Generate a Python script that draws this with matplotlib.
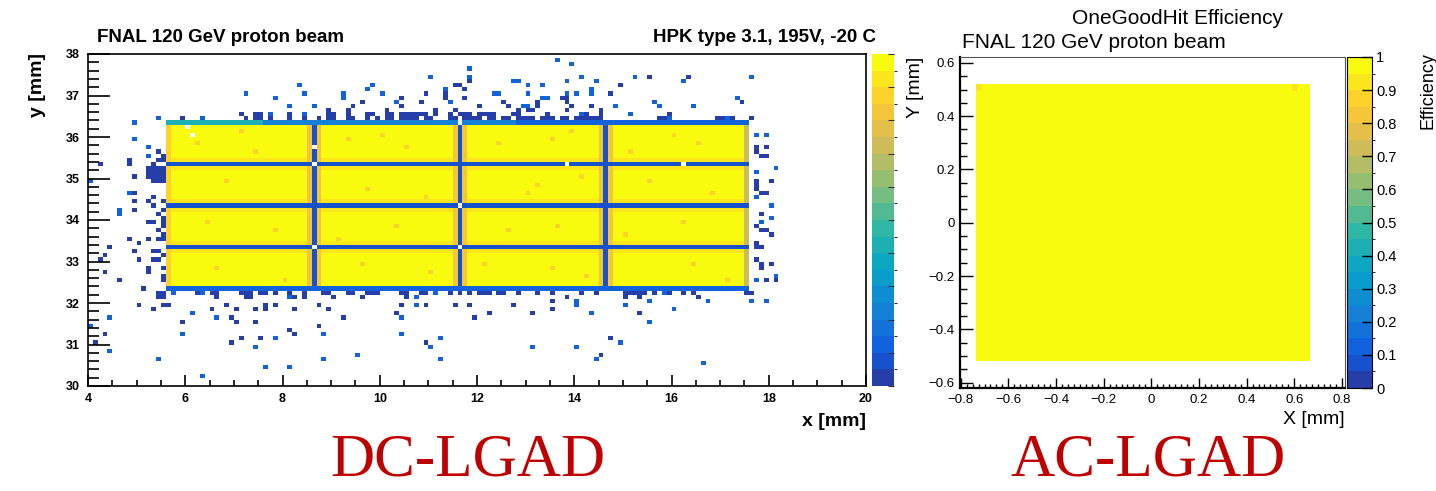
import numpy as np
import matplotlib.pyplot as plt
from matplotlib.colors import ListedColormap, BoundaryNorm
from matplotlib.ticker import MultipleLocator, FuncFormatter

plt.rcParams['font.family'] = ['Liberation Sans', 'DejaVu Sans']

# ROOT kBird palette stops
bird_pos = [0.0, 0.125, 0.25, 0.375, 0.5, 0.625, 0.75, 0.875, 1.0]
bird_red = [0.2082, 0.0592, 0.0780, 0.0232, 0.1802, 0.5301, 0.8186, 0.9956, 0.9764]
bird_green = [0.1664, 0.3599, 0.5041, 0.6419, 0.7178, 0.7492, 0.7328, 0.7862, 0.9832]
bird_blue = [0.5293, 0.8684, 0.8385, 0.7914, 0.6425, 0.4662, 0.3499, 0.1968, 0.0539]
n_levels = 20

# ---------------- DC-LGAD efficiency map (0.1 mm bins) ----------------
dc_bin = 0.1
dc_xrange = [4.0, 20.0]
dc_yrange = [30.0, 38.0]
sensor_x = [5.6, 17.6]
sensor_y = [32.4, 36.3]
vgap_x = [8.6, 11.6, 14.6]
hgap_y = [33.3, 34.3, 35.3]

pad_eff = 0.98
near_hgap_eff = 0.93
near_vgap_eff = 0.83
gap_eff = 0.08
left_col_eff = 0.86
right_col_eff = 0.74
bottom_row_eff = 0.13
top_row_segments = [(5.6, 7.6, 0.42), (7.6, 12.8, 0.22), (12.8, 17.6, 0.14)]

orange_cells = [(6.25, 35.85), (7.45, 35.65), (9.35, 35.95), (10.55, 35.75), (6.85, 34.95),
                (9.75, 34.75), (10.95, 34.55), (6.45, 33.95), (7.85, 33.75), (9.15, 33.55),
                (10.35, 33.85), (6.65, 32.85), (8.05, 32.55), (9.65, 32.95), (11.05, 32.75),
                (12.45, 35.85), (13.05, 34.65), (12.65, 33.75), (12.15, 32.95), (13.55, 35.95),
                (15.15, 35.65), (16.55, 35.85), (13.25, 34.85), (14.15, 35.05), (15.55, 34.95),
                (16.85, 34.65), (13.65, 33.85), (15.05, 33.65), (16.25, 33.95), (13.55, 32.85),
                (14.25, 32.65), (16.45, 32.95), (17.15, 32.55), (7.15, 36.15), (10.05, 36.05),
                (13.95, 36.15), (16.05, 36.05)]
orange_eff = 0.88

empty_cells = [(8.65, 35.35), (8.65, 35.75), (11.65, 34.35), (11.65, 36.35), (13.85, 35.35),
               (16.25, 35.35), (8.65, 33.35), (11.65, 33.35), (6.15, 36.05), (6.05, 36.25)]

dark_hits = [
    # left side
    (5.25, 35.05), (5.35, 35.05), (5.45, 35.05), (5.55, 35.05), (5.25, 35.15), (5.35, 35.15),
    (5.45, 35.15), (5.55, 35.15), (5.25, 35.25), (5.35, 35.25), (5.45, 35.25), (5.55, 35.25),
    (5.35, 34.95), (5.45, 34.95), (5.55, 34.95), (5.45, 35.45), (5.55, 35.45), (5.35, 35.35),
    (5.45, 35.65), (5.55, 35.55), (4.85, 35.45), (4.85, 35.35), (4.25, 35.35), (4.95, 35.05),
    (4.95, 34.65), (4.95, 34.45), (4.95, 34.25), (5.25, 34.45), (5.35, 34.55), (5.35, 34.35),
    (5.55, 34.45), (5.55, 34.25), (5.45, 34.15), (5.55, 34.05), (5.55, 33.95), (5.55, 33.85),
    (5.45, 33.75), (5.55, 33.65), (5.45, 33.55), (5.55, 33.55), (5.25, 33.95), (5.35, 33.95),
    (4.85, 33.55), (5.05, 33.45), (5.25, 33.55), (5.35, 33.25), (5.45, 33.25), (5.55, 33.15),
    (4.45, 33.35), (4.95, 33.25), (4.35, 33.15), (5.05, 33.05), (4.25, 33.05), (5.35, 33.05),
    (5.45, 33.05), (5.25, 32.85), (5.25, 32.75), (4.35, 32.75), (5.55, 32.85), (5.55, 32.65),
    (5.55, 32.55), (4.65, 32.55), (5.15, 32.35), (5.45, 32.25), (5.55, 32.25), (5.45, 32.15),
    (5.55, 32.15), (5.05, 31.95), (5.55, 31.95), (5.35, 31.85), (4.35, 31.25), (4.15, 31.05),
    # below the sensor
    (6.25, 32.25), (6.55, 32.25), (6.65, 32.25), (7.15, 32.25), (7.25, 32.25), (7.35, 32.25),
    (7.55, 32.25), (7.65, 32.25), (7.85, 32.25), (8.15, 32.25), (8.45, 32.25), (8.85, 32.25),
    (8.95, 32.25), (9.35, 32.25), (9.45, 32.25), (9.75, 32.25), (9.85, 32.25), (9.95, 32.25),
    (10.45, 32.25), (10.55, 32.25), (10.85, 32.25), (10.95, 32.25), (11.45, 32.25),
    (11.65, 32.25), (11.85, 32.25), (12.05, 32.25), (12.15, 32.25), (12.25, 32.25),
    (12.45, 32.25), (12.55, 32.25), (12.85, 32.25), (13.25, 32.25), (13.55, 32.25),
    (14.15, 32.25), (14.45, 32.25), (15.05, 32.25), (15.15, 32.25), (15.25, 32.25),
    (15.35, 32.25), (15.45, 32.25), (15.65, 32.25), (15.95, 32.25), (16.25, 32.25),
    (16.45, 32.25), (17.55, 32.25), (17.65, 32.25),
    (6.65, 32.15), (7.25, 32.15), (7.35, 32.15), (8.25, 32.15), (8.45, 32.15), (9.05, 32.15),
    (9.65, 32.15), (10.55, 32.15), (13.85, 32.15), (15.05, 32.15), (15.35, 32.15), (16.55, 32.15),
    (13.55, 32.05), (5.65, 31.95), (6.85, 31.95), (7.65, 31.95), (7.85, 31.95), (8.75, 31.95),
    (10.45, 31.95), (10.95, 31.95), (11.55, 31.95), (11.85, 31.95), (12.75, 31.95),
    (6.55, 31.85), (7.05, 31.85), (7.45, 31.85), (7.65, 31.85), (8.25, 31.85), (8.95, 31.85),
    (13.55, 31.85), (10.35, 31.75), (12.25, 31.75), (13.15, 31.75), (15.35, 31.75),
    (6.95, 31.65), (9.25, 31.65), (11.95, 31.65), (5.95, 31.55), (7.05, 31.55), (7.45, 31.55),
    (8.75, 31.45), (8.15, 31.35), (8.25, 31.25), (7.15, 31.15), (7.55, 31.15), (14.75, 31.15),
    (6.95, 31.05), (10.95, 31.05), (14.55, 30.75),
    # right side
    (17.75, 35.75), (17.75, 35.65), (17.85, 35.55), (17.95, 35.55), (18.05, 34.95),
    (17.75, 34.95), (17.75, 34.85), (17.75, 34.75), (17.85, 34.65), (17.95, 34.65),
    (17.85, 34.15), (17.75, 33.85), (17.85, 33.75), (17.95, 33.75), (18.05, 33.65),
    (17.75, 33.45), (17.75, 33.35), (17.85, 33.35), (17.75, 33.05), (17.85, 32.95),
    (17.85, 32.85), (18.05, 32.95), (17.95, 32.55), (18.15, 32.55), (17.95, 35.75),
    # above the sensor
    (11.85, 37.35), (11.55, 37.25), (11.65, 37.25), (11.75, 37.15), (11.75, 36.95),
    (10.95, 37.05), (11.35, 37.05), (11.35, 36.95), (10.45, 36.95), (9.65, 36.85),
    (9.45, 36.75), (10.85, 36.85), (12.55, 36.85), (10.45, 36.75), (12.05, 36.75),
    (12.65, 36.75), (14.95, 37.25), (15.55, 37.45), (16.35, 37.45), (14.75, 37.05),
    (13.85, 36.95), (13.85, 36.85), (13.75, 36.95), (13.25, 36.85), (13.25, 36.75),
    (13.05, 36.65), (13.15, 36.65), (13.95, 36.75), (13.85, 36.65), (14.35, 36.75),
    (17.45, 36.85), (12.85, 36.65), (13.45, 36.55), (14.25, 36.55), (14.55, 36.65),
    (14.55, 36.55), (15.95, 36.55), (8.95, 36.65), (9.35, 36.65), (10.15, 36.65),
    (11.15, 36.65), (11.55, 36.65),
    (7.15, 36.55), (7.45, 36.55), (7.55, 36.55), (8.15, 36.55), (8.95, 36.55), (9.05, 36.55),
    (9.35, 36.55), (9.75, 36.55), (9.85, 36.55), (10.15, 36.55), (10.25, 36.55), (10.45, 36.55),
    (10.55, 36.55), (10.65, 36.55), (10.75, 36.55), (10.85, 36.55), (10.95, 36.55),
    (11.15, 36.55), (11.45, 36.55), (11.65, 36.55), (11.75, 36.55), (11.85, 36.55),
    (12.05, 36.55), (12.15, 36.55), (12.25, 36.55), (12.35, 36.55), (12.75, 36.55),
    (12.85, 36.55),
    (5.95, 36.45), (7.25, 36.45), (7.45, 36.45), (7.55, 36.45), (7.75, 36.45), (8.15, 36.45),
    (8.45, 36.45), (8.75, 36.45), (8.95, 36.45), (9.05, 36.45), (9.35, 36.45), (9.45, 36.45),
    (9.75, 36.45), (9.95, 36.45), (10.15, 36.45), (10.25, 36.45), (10.45, 36.45),
    (10.55, 36.45), (10.65, 36.45), (10.75, 36.45), (10.95, 36.45), (11.05, 36.45),
    (11.45, 36.45), (11.55, 36.45), (11.75, 36.45), (11.85, 36.45), (11.95, 36.45),
    (12.05, 36.45), (12.25, 36.45), (12.35, 36.45), (12.55, 36.45), (12.65, 36.45),
    (12.85, 36.45), (12.95, 36.45), (13.05, 36.45), (13.15, 36.45), (13.35, 36.45),
    (13.45, 36.45), (13.55, 36.45), (13.75, 36.45), (13.85, 36.45), (14.05, 36.45),
    (14.15, 36.45), (14.25, 36.45), (14.35, 36.45), (14.45, 36.45), (14.55, 36.45),
    (15.75, 36.45), (15.85, 36.45), (16.95, 36.45), (17.05, 36.45), (17.25, 36.45),
    (17.65, 36.45),
]
light_hits = [
    (4.95, 36.35), (5.45, 36.45), (4.95, 35.95), (5.25, 35.75), (5.25, 35.55), (4.05, 34.95),
    (4.85, 34.65), (4.65, 34.25), (4.65, 34.15), (4.45, 31.65), (4.05, 31.45), (4.45, 30.85),
    (5.75, 32.25), (6.35, 32.25), (11.15, 32.25), (15.85, 32.25), (8.15, 32.15), (10.75, 32.15),
    (10.75, 31.95), (14.05, 31.95), (15.05, 31.95), (16.05, 31.85), (14.05, 32.05),
    (15.55, 32.05), (16.75, 32.05), (17.65, 32.05), (17.95, 32.05), (6.15, 31.75),
    (14.35, 31.75), (6.65, 31.65), (10.45, 31.65), (15.55, 31.55), (5.95, 31.25), (8.85, 31.25),
    (10.45, 31.25), (7.85, 31.15), (11.25, 31.15), (14.95, 31.05), (7.45, 30.95), (11.05, 30.95),
    (13.15, 30.95), (14.05, 30.95), (9.55, 30.75), (5.45, 30.65), (8.85, 30.65), (11.25, 30.65),
    (14.45, 30.65), (16.65, 30.55), (7.65, 30.45), (8.15, 30.45), (6.35, 30.25),
    (17.75, 36.05), (17.95, 36.05), (18.15, 35.25), (17.75, 35.15), (17.75, 34.55),
    (18.05, 34.35), (18.05, 34.05), (17.85, 33.95), (17.75, 32.55), (18.15, 32.65),
    (11.85, 37.65), (11.85, 37.45), (11.05, 37.45), (12.75, 37.35), (8.35, 37.25), (9.85, 37.25),
    (9.75, 37.15), (7.25, 37.05), (8.45, 37.05), (9.25, 37.05), (9.25, 36.95), (10.05, 37.05),
    (11.35, 37.15), (11.45, 36.85), (12.35, 37.05), (12.45, 37.05), (7.85, 36.95), (10.35, 36.85),
    (8.15, 36.75), (8.65, 36.75), (7.75, 36.55), (8.45, 36.55), (13.65, 37.85), (13.95, 37.75),
    (12.85, 37.35), (13.05, 37.25), (13.35, 37.25), (13.85, 37.35), (14.15, 37.45),
    (14.45, 37.35), (15.25, 37.45), (16.25, 37.35), (17.65, 37.45), (13.05, 37.05),
    (14.35, 37.15), (14.35, 37.05), (14.05, 37.05), (13.35, 36.95), (13.45, 36.95),
    (13.85, 37.05), (12.95, 36.75), (13.05, 36.75), (14.85, 36.75), (15.65, 36.85),
    (15.75, 36.75), (16.45, 36.75), (17.35, 36.95), (14.15, 36.55), (15.15, 36.55),
    (6.35, 36.45), (15.95, 36.45), (17.15, 36.45),
]
dark_eff = 0.02
light_eff = 0.12

# ---------------- AC-LGAD efficiency map ----------------
ac_xrange = [-0.735, 0.665]
ac_yrange = [-0.52, 0.52]
ac_nbins = [56, 40]
ac_eff = 0.99
ac_low_cells = [(-0.71, 0.51, 0.93), (0.61, 0.51, 0.93)]


def bird(v):
    return (np.interp(v, bird_pos, bird_red), np.interp(v, bird_pos, bird_green),
            np.interp(v, bird_pos, bird_blue))


cmap = ListedColormap([bird((i + 0.99) / n_levels) for i in range(n_levels)])
cmap.set_bad('white')
levels = np.linspace(0, 1, n_levels + 1)
norm = BoundaryNorm(levels, cmap.N)


def idx(v, lo):
    return int(np.floor((v - lo) / dc_bin + 1e-6))


def build_dc():
    nx = idx(dc_xrange[1], dc_xrange[0])
    ny = idx(dc_yrange[1], dc_yrange[0])
    H = np.full((ny, nx), np.nan)
    X = lambda v: idx(v, dc_xrange[0])
    Y = lambda v: idx(v, dc_yrange[0])
    x0, x1 = X(sensor_x[0]), X(sensor_x[1])
    y0, y1 = Y(sensor_y[0]), Y(sensor_y[1])
    H[y0:y1, x0:x1] = pad_eff
    H[y0:y1, x0] = left_col_eff
    H[y0:y1, x1 - 1] = right_col_eff
    for g in hgap_y:
        r = Y(g)
        H[r - 1, x0 + 1:x1 - 1] = near_hgap_eff
        H[r + 1, x0 + 1:x1 - 1] = near_hgap_eff
    for g in vgap_x:
        c = X(g)
        H[y0:y1, c - 1] = near_vgap_eff
        H[y0:y1, c + 1] = near_vgap_eff
    for g in hgap_y:
        H[Y(g), x0:x1] = gap_eff
    for g in vgap_x:
        H[y0:y1, X(g)] = gap_eff
    for a, b, v in top_row_segments:
        H[y1, X(a):X(b)] = v
    H[y0 - 1, x0:x1] = bottom_row_eff
    for x, y in orange_cells:
        H[Y(y), X(x)] = orange_eff
    for x, y in dark_hits:
        H[Y(y), X(x)] = dark_eff
    for x, y in light_hits:
        H[Y(y), X(x)] = light_eff
    for x, y in empty_cells:
        H[Y(y), X(x)] = np.nan
    xe = np.linspace(dc_xrange[0], dc_xrange[1], nx + 1)
    ye = np.linspace(dc_yrange[0], dc_yrange[1], ny + 1)
    return xe, ye, H


def build_ac():
    xe = np.linspace(ac_xrange[0], ac_xrange[1], ac_nbins[0] + 1)
    ye = np.linspace(ac_yrange[0], ac_yrange[1], ac_nbins[1] + 1)
    H = np.full((ac_nbins[1], ac_nbins[0]), ac_eff)
    for x, y, v in ac_low_cells:
        H[np.searchsorted(ye, y) - 1, np.searchsorted(xe, x) - 1] = v
    return xe, ye, H


fmt = FuncFormatter(lambda v, p: ('%g' % round(v, 3)).replace('-', '\u2212'))

W, Hpx = 1436.0, 491.0
fig = plt.figure(figsize=(W / 100, Hpx / 100), dpi=100)

# ----- left panel: DC-LGAD -----
ax1 = fig.add_axes([88 / W, 1 - 386 / Hpx, 778 / W, 332 / Hpx])
xe, ye, H = build_dc()
m1 = ax1.pcolormesh(xe, ye, np.ma.masked_invalid(H), cmap=cmap, norm=norm,
                    edgecolors='none', antialiased=False)
ax1.set_xlim(dc_xrange)
ax1.set_ylim(dc_yrange)
ax1.xaxis.set_major_locator(MultipleLocator(2))
ax1.xaxis.set_minor_locator(MultipleLocator(0.5))
ax1.yaxis.set_major_locator(MultipleLocator(1))
ax1.yaxis.set_minor_locator(MultipleLocator(0.2))
ax1.xaxis.set_major_formatter(fmt)
ax1.yaxis.set_major_formatter(fmt)
ax1.tick_params(which='both', direction='in', top=False, right=False, width=1.2)
ax1.tick_params(axis='x', which='major', length=8, pad=5)
ax1.tick_params(axis='x', which='minor', length=4)
ax1.tick_params(axis='y', which='major', length=16, pad=6)
ax1.tick_params(axis='y', which='minor', length=8)
for lab in ax1.get_xticklabels() + ax1.get_yticklabels():
    lab.set_fontweight('bold')
    lab.set_fontsize(9)
for s in ax1.spines.values():
    s.set_linewidth(1.2)

cax1 = fig.add_axes([872 / W, 1 - 386 / Hpx, 22 / W, 332 / Hpx])
cb1 = fig.colorbar(m1, cax=cax1, ticks=levels[::2])
cb1.outline.set_visible(False)
cax1.tick_params(direction='in', length=4, labelright=False, right=True, color='#333333')

fig.text(97 / W, 1 - 38 / Hpx, 'FNAL 120 GeV proton beam', fontsize=13.5, fontweight='bold',
         ha='left', va='center')
fig.text(876 / W, 1 - 38 / Hpx, 'HPK type 3.1, 195V, -20 C', fontsize=13.5, fontweight='bold',
         ha='right', va='center')
fig.text(37 / W, 1 - 53 / Hpx, 'y [mm]', fontsize=14, fontweight='bold', rotation=90,
         ha='center', va='top')
fig.text(866 / W, 1 - 421 / Hpx, 'x [mm]', fontsize=14, fontweight='bold', ha='right', va='center')

# ----- right panel: AC-LGAD -----
ax2 = fig.add_axes([960 / W, 1 - 388 / Hpx, 385 / W, 331 / Hpx])
xe2, ye2, H2 = build_ac()
m2 = ax2.pcolormesh(xe2, ye2, H2, cmap=cmap, norm=norm, edgecolors='none', antialiased=False)
ax2.set_xlim(-0.803, 0.813)
ax2.set_ylim(-0.62, 0.622)
ax2.xaxis.set_major_locator(MultipleLocator(0.2))
ax2.xaxis.set_minor_locator(MultipleLocator(0.025))
ax2.yaxis.set_major_locator(MultipleLocator(0.2))
ax2.yaxis.set_minor_locator(MultipleLocator(0.05))
ax2.xaxis.set_major_formatter(fmt)
ax2.yaxis.set_major_formatter(fmt)
ax2.tick_params(which='both', direction='in', top=False, right=False, labelsize=9.5, width=1)
ax2.tick_params(axis='x', which='major', length=7, pad=4)
ax2.tick_params(axis='x', which='minor', length=3)
ax2.tick_params(axis='y', which='major', length=9, pad=4)
ax2.tick_params(axis='y', which='minor', length=5)
ax2.spines['left'].set_linewidth(1.6)
ax2.spines['bottom'].set_linewidth(1.6)
ax2.spines['top'].set_linewidth(0.8)
ax2.spines['right'].set_linewidth(0.8)
ax2.spines['top'].set_color('#555555')
ax2.spines['right'].set_color('#555555')

cax2 = fig.add_axes([1347 / W, 1 - 388 / Hpx, 25 / W, 331 / Hpx])
cb2 = fig.colorbar(m2, cax=cax2, ticks=levels[::2])
cb2.outline.set_linewidth(0.8)
cb2.ax.yaxis.set_major_formatter(fmt)
cax2.tick_params(direction='in', length=7, width=1, labelsize=10.5, pad=3)

fig.text(1177 / W, 1 - 19 / Hpx, 'OneGoodHit Efficiency', fontsize=15, ha='center', va='center')
fig.text(962 / W, 1 - 42 / Hpx, 'FNAL 120 GeV proton beam', fontsize=15, ha='left', va='center')
fig.text(915 / W, 1 - 57 / Hpx, 'Y [mm]', fontsize=14, rotation=90, ha='center', va='top')
fig.text(1345 / W, 1 - 419 / Hpx, 'X [mm]', fontsize=14, ha='right', va='center')
fig.text(1428 / W, 1 - 52 / Hpx, 'Efficiency', fontsize=13, rotation=90, ha='center', va='top')

# ----- captions -----
fig.text(468 / W, 1 - 476 / Hpx, 'DC-LGAD', fontsize=44, color='#C00000',
         family='Liberation Serif', ha='center', va='baseline')
fig.text(1148 / W, 1 - 476 / Hpx, 'AC-LGAD', fontsize=44, color='#C00000',
         family='Liberation Serif', ha='center', va='baseline')

fig.savefig('out.png', dpi=100)
